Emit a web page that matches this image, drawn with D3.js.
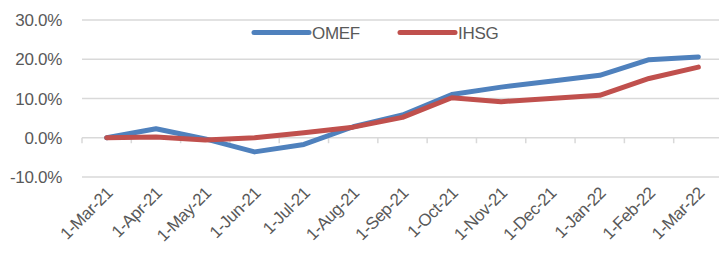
<!DOCTYPE html>
<html><head><meta charset="utf-8">
<script src="https://cdn.jsdelivr.net/npm/d3@7"></script>
<style>body{margin:0;background:#fff;overflow:hidden}text{font-family:"Liberation Sans",Arial,sans-serif}</style>
</head><body><svg id="c" width="719" height="255"></svg>
<script>
const categories = ["1-Mar-21","1-Apr-21","1-May-21","1-Jun-21","1-Jul-21","1-Aug-21","1-Sep-21","1-Oct-21","1-Nov-21","1-Dec-21","1-Jan-22","1-Feb-22","1-Mar-22"];
const omef = [0, 2.3, -0.3, -3.6, -1.7, 2.8, 5.8, 11.0, 12.9, 14.4, 15.9, 19.9, 20.6];
const ihsg = [0, 0.2, -0.6, 0.0, 1.3, 2.7, 5.2, 10.2, 9.2, 10.0, 10.8, 15.1, 18.0];
const yTicks = [-10, 0, 10, 20, 30];
const seriesNames = ["OMEF", "IHSG"];
const colors = ["#4F81BD", "#C0504D"];

const svg = d3.select("#c");
const x = d3.scaleBand().domain(categories).range([82, 723]);
const y = d3.scaleLinear().domain([-10, 30]).range([177, 20]);

// gridlines
svg.append("g").selectAll("line").data(yTicks.filter(d => d !== 0)).join("line")
  .attr("x1", 82).attr("x2", 719).attr("y1", d => y(d)).attr("y2", d => y(d))
  .attr("stroke", "#d9d9d9").attr("stroke-width", 1.5);

// y labels
svg.append("g").selectAll("text").data(yTicks).join("text")
  .attr("x", 62).attr("y", d => y(d)).attr("dy", "0.36em").attr("text-anchor", "end")
  .attr("font-size", 17).attr("fill", "#595959").attr("letter-spacing", -0.3).text(d => d.toFixed(1) + "%");

// zero axis with ticks
const ax = svg.append("g");
ax.append("line").attr("x1", 82).attr("x2", 719).attr("y1", y(0)).attr("y2", y(0))
  .attr("stroke", "#d9d9d9").attr("stroke-width", 1.5);
const tickXs = categories.map(c => x(c)).concat([x.range()[1]]);
ax.selectAll("line.t").data(tickXs).join("line").attr("class", "t")
  .attr("x1", d => d).attr("x2", d => d).attr("y1", y(0)).attr("y2", y(0) + 5.5)
  .attr("stroke", "#d9d9d9").attr("stroke-width", 1.5);

// x labels
svg.append("g").selectAll("text").data(categories).join("text")
  .attr("transform", d => `translate(${x(d) + x.bandwidth() / 2 + 7},${194}) rotate(-45)`)
  .attr("text-anchor", "end").attr("font-size", 17).attr("letter-spacing", -0.4).attr("fill", "#595959").text(d => d);

// lines
const line = d3.line().x((d, i) => x(categories[i]) + x.bandwidth() / 2).y(d => y(d));
[omef, ihsg].forEach((s, k) => {
  svg.append("path").datum(s).attr("d", line).attr("fill", "none")
    .attr("stroke", colors[k]).attr("stroke-width", 5).attr("stroke-linejoin", "round").attr("stroke-linecap", "round");
});

// legend
const lg = svg.append("g");
const lx = [254, 400];
seriesNames.forEach((n, k) => {
  lg.append("line").attr("x1", lx[k]).attr("x2", lx[k] + 55).attr("y1", 32.5).attr("y2", 32.5)
    .attr("stroke", colors[k]).attr("stroke-width", 5).attr("stroke-linecap", "round");
  lg.append("text").attr("x", lx[k] + 58).attr("y", 32.5).attr("dy", "0.36em")
    .attr("font-size", 17).attr("letter-spacing", -0.3).attr("fill", "#595959").text(n);
});
</script></body></html>
